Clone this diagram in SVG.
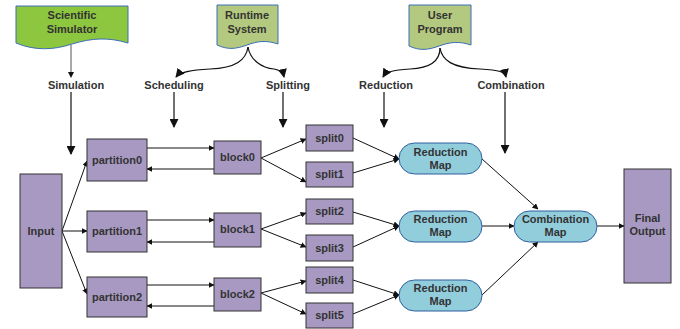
<svg xmlns="http://www.w3.org/2000/svg" width="680" height="329" viewBox="0 0 680 329">
<defs>
<marker id="ah" viewBox="0 0 10 10" refX="9" refY="5" markerWidth="6" markerHeight="6" orient="auto" markerUnits="userSpaceOnUse">
<path d="M0,0 L10,5 L0,10 z" fill="#111"/>
</marker>
<marker id="ahb" viewBox="0 0 10 10" refX="9" refY="5" markerWidth="9" markerHeight="9" orient="auto" markerUnits="userSpaceOnUse">
<path d="M0,0 L10,5 L0,10 z" fill="#111"/>
</marker>
</defs>
<style>
text{font-family:"Liberation Sans",Arial,sans-serif;font-weight:bold;font-size:11px;fill:#333;text-anchor:middle}
.box{fill:#a899c2;stroke:#333;stroke-width:1}
.pill{fill:#92cddc;stroke:#2f5f9e;stroke-width:1}
.doc1{fill:#8dc63f;stroke:#3d6fb6;stroke-width:1}
.doc2{fill:#b3c97f;stroke:#3d6fb6;stroke-width:1}
.c{fill:none;stroke:#111;stroke-width:1;marker-end:url(#ah)}
.cb{fill:none;stroke:#111;stroke-width:1.2;marker-end:url(#ahb)}
.l{fill:none;stroke:#111;stroke-width:1.2}
.g{fill:none;stroke:#555;stroke-width:1}
</style>

<g id="connectors">
<!-- top labels arrows -->
<line class="g" x1="71" y1="45" x2="71" y2="72"/>
<path d="M68,72 L74,72 L71,78 z" fill="#111"/>
<line class="cb" x1="71" y1="92" x2="71" y2="154"/>
<path class="cb" d="M248,47 C246,60 236,68 210,69 C190,70 180,72 176,77"/>
<path class="cb" d="M248,47 C250,60 262,68 274,69 C280,70 283,72 284,77"/>
<line class="cb" x1="174" y1="92" x2="174" y2="127"/>
<line class="cb" x1="283" y1="92" x2="283" y2="127"/>
<path class="cb" d="M440,48 C440,60 432,68 410,69 C392,70 386,72 383,77"/>
<path class="cb" d="M440,48 C442,60 452,68 480,69 C500,70 505,72 506,77"/>
<line class="cb" x1="384" y1="92" x2="384" y2="127"/>
<line class="cb" x1="505" y1="92" x2="505" y2="153"/>
<!-- input to partitions -->
<line class="c" x1="62" y1="231" x2="87" y2="161"/>
<line class="c" x1="62" y1="231" x2="87" y2="231"/>
<line class="c" x1="62" y1="231" x2="87" y2="294"/>
<!-- partitions <-> blocks -->
<line class="c" x1="147" y1="148" x2="214" y2="148"/>
<line class="c" x1="214" y1="169" x2="147" y2="169"/>
<line class="c" x1="147" y1="220" x2="214" y2="220"/>
<line class="c" x1="214" y1="242" x2="147" y2="242"/>
<line class="c" x1="147" y1="285" x2="214" y2="285"/>
<line class="c" x1="214" y1="306" x2="147" y2="306"/>
<!-- blocks to splits -->
<line class="c" x1="261" y1="158" x2="306" y2="139"/>
<line class="c" x1="261" y1="158" x2="306" y2="182"/>
<line class="c" x1="261" y1="229" x2="306" y2="213"/>
<line class="c" x1="261" y1="229" x2="306" y2="247"/>
<line class="c" x1="261" y1="293" x2="306" y2="281"/>
<line class="c" x1="261" y1="293" x2="306" y2="314"/>
<!-- splits to reductions -->
<line class="c" x1="353" y1="138" x2="399" y2="159"/>
<line class="c" x1="353" y1="173" x2="399" y2="159"/>
<line class="c" x1="353" y1="212" x2="399" y2="226"/>
<line class="c" x1="353" y1="247" x2="399" y2="226"/>
<line class="c" x1="353" y1="280" x2="399" y2="295"/>
<line class="c" x1="353" y1="314" x2="399" y2="295"/>
<!-- reductions to combination -->
<line class="c" x1="482" y1="159" x2="538" y2="209"/>
<line class="c" x1="482" y1="226" x2="514" y2="226"/>
<line class="c" x1="482" y1="295" x2="538" y2="242"/>
<line class="c" x1="597" y1="226" x2="624" y2="226"/>
</g>

<g id="scientific-simulator">
<path class="doc1" d="M16,6 H128 V43 C108,37 92,38 72,44 C54,50 35,51 16,43 Z"/>
<text x="72" y="19">Scientific</text>
<text x="72" y="33">Simulator</text>
</g>
<g id="runtime-system">
<path class="doc2" d="M217,5 H278 V44 C266,40 258,41 247,45 C236,49 228,50 217,45 Z"/>
<text x="247" y="19">Runtime</text>
<text x="247" y="33">System</text>
</g>
<g id="user-program">
<path class="doc2" d="M409,5 H471 V45 C459,41 450,42 439,46 C428,50 420,51 409,46 Z"/>
<text x="440" y="19">User</text>
<text x="440" y="33">Program</text>
</g>

<g id="label-simulation"><text x="76" y="89">Simulation</text></g>
<g id="label-scheduling"><text x="174" y="89">Scheduling</text></g>
<g id="label-splitting"><text x="288" y="89">Splitting</text></g>
<g id="label-reduction"><text x="386" y="89">Reduction</text></g>
<g id="label-combination"><text x="511" y="89">Combination</text></g>

<g id="input"><rect class="box" x="20" y="174" width="42" height="114"/><text x="41" y="235">Input</text></g>
<g id="partition0"><rect class="box" x="87" y="139" width="60" height="42"/><text x="117" y="164">partition0</text></g>
<g id="partition1"><rect class="box" x="87" y="211" width="60" height="41"/><text x="117" y="235">partition1</text></g>
<g id="partition2"><rect class="box" x="87" y="277" width="60" height="40"/><text x="117" y="301">partition2</text></g>
<g id="block0"><rect class="box" x="214" y="141" width="47" height="33"/><text x="237.5" y="161">block0</text></g>
<g id="block1"><rect class="box" x="214" y="213" width="47" height="34"/><text x="237.5" y="233">block1</text></g>
<g id="block2"><rect class="box" x="214" y="278" width="47" height="33"/><text x="237.5" y="298">block2</text></g>
<g id="split0"><rect class="box" x="306" y="125" width="47" height="26"/><text x="329.5" y="142">split0</text></g>
<g id="split1"><rect class="box" x="306" y="162" width="47" height="25"/><text x="329.5" y="178">split1</text></g>
<g id="split2"><rect class="box" x="306" y="199" width="47" height="25"/><text x="329.5" y="215">split2</text></g>
<g id="split3"><rect class="box" x="306" y="235" width="47" height="26"/><text x="329.5" y="252">split3</text></g>
<g id="split4"><rect class="box" x="306" y="267" width="47" height="26"/><text x="329.5" y="284">split4</text></g>
<g id="split5"><rect class="box" x="306" y="303" width="47" height="25"/><text x="329.5" y="319">split5</text></g>
<g id="reduction0"><rect class="pill" x="399" y="143" width="83" height="31" rx="15.5"/><text x="440.5" y="156">Reduction</text><text x="440.5" y="169">Map</text></g>
<g id="reduction1"><rect class="pill" x="399" y="211" width="83" height="31" rx="15.5"/><text x="440.5" y="223">Reduction</text><text x="440.5" y="236">Map</text></g>
<g id="reduction2"><rect class="pill" x="399" y="280" width="83" height="31" rx="15.5"/><text x="440.5" y="292">Reduction</text><text x="440.5" y="305">Map</text></g>
<g id="combination"><rect class="pill" x="514" y="211" width="83" height="31" rx="15.5"/><text x="555.5" y="223">Combination</text><text x="555.5" y="236">Map</text></g>
<g id="final-output"><rect class="box" x="624" y="169" width="47" height="114"/><text x="647.5" y="222">Final</text><text x="647.5" y="235">Output</text></g>
</svg>
